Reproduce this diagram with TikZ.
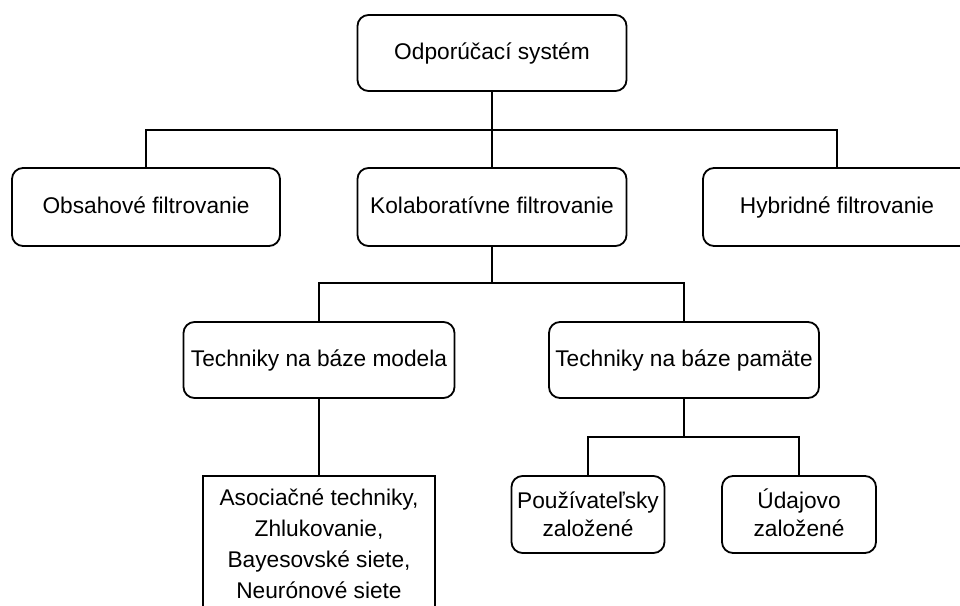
\documentclass[tikz,border=0pt]{standalone}
\usepackage{fontspec}
\setmainfont{Liberation Sans}
\begin{document}
\begin{tikzpicture}[x=1pt,y=-1pt,
  box/.style={draw=black,line width=1.8pt,rounded corners=11pt,fill=white,
    align=center,inner sep=0pt,font=\fontsize{22.7}{28}\selectfont},
  oneline/.style={box,text height=16.5pt,text depth=4.5pt},
  sqbox/.style={box,sharp corners,font=\fontsize{22.7}{31}\selectfont},
  link/.style={draw=black,line width=1.8pt}]
  \useasboundingbox (0,0) rectangle (960,605);
  \clip (0,0) rectangle (960,605);
  \fill[white] (0,0) rectangle (960,605);

  % root
  \node[oneline,minimum width=269pt,minimum height=76pt] (top) at (492,53) {Odporúčací systém};
  % second level
  \node[oneline,minimum width=268pt,minimum height=78pt] (obs) at (146,207) {Obsahové filtrovanie};
  \node[oneline,minimum width=269pt,minimum height=78pt] (kol) at (492,207) {Kolaboratívne filtrovanie};
  \node[oneline,minimum width=268pt,minimum height=78pt] (hyb) at (837,207) {Hybridné filtrovanie};
  % third level
  \node[oneline,minimum width=271pt,minimum height=76pt] (mod) at (319,360) {Techniky na báze modela};
  \node[oneline,minimum width=270pt,minimum height=76pt] (pam) at (684,360) {Techniky na báze pamäte};
  % leaves
  \node[sqbox,minimum width=232pt,minimum height=136pt] (aso) at (319,544)
    {Asociačné techniky,\\Zhlukovanie,\\Bayesovské siete,\\Neurónové siete};
  \node[box,minimum width=153pt,minimum height=77pt] (pou) at (588,514.5) {Používateľsky\\založené};
  \node[box,minimum width=154pt,minimum height=77pt] (uda) at (799,514.5) {\smash{Ú}dajovo\\založené};

  % branch points
  \coordinate (b1) at (492,130);
  \coordinate (b2) at (492,283);
  \coordinate (b3) at (684,437);

  % connectors
  \draw[link] (top) -- (kol);
  \draw[link] (obs.north) |- (b1) -| (hyb.north);
  \draw[link] (kol) -- (b2);
  \draw[link] (mod.north) |- (b2) -| (pam.north);
  \draw[link] (mod) -- (aso);
  \draw[link] (pam) -- (b3);
  \draw[link] (pou.north) |- (b3) -| (uda.north);
\end{tikzpicture}
\end{document}
